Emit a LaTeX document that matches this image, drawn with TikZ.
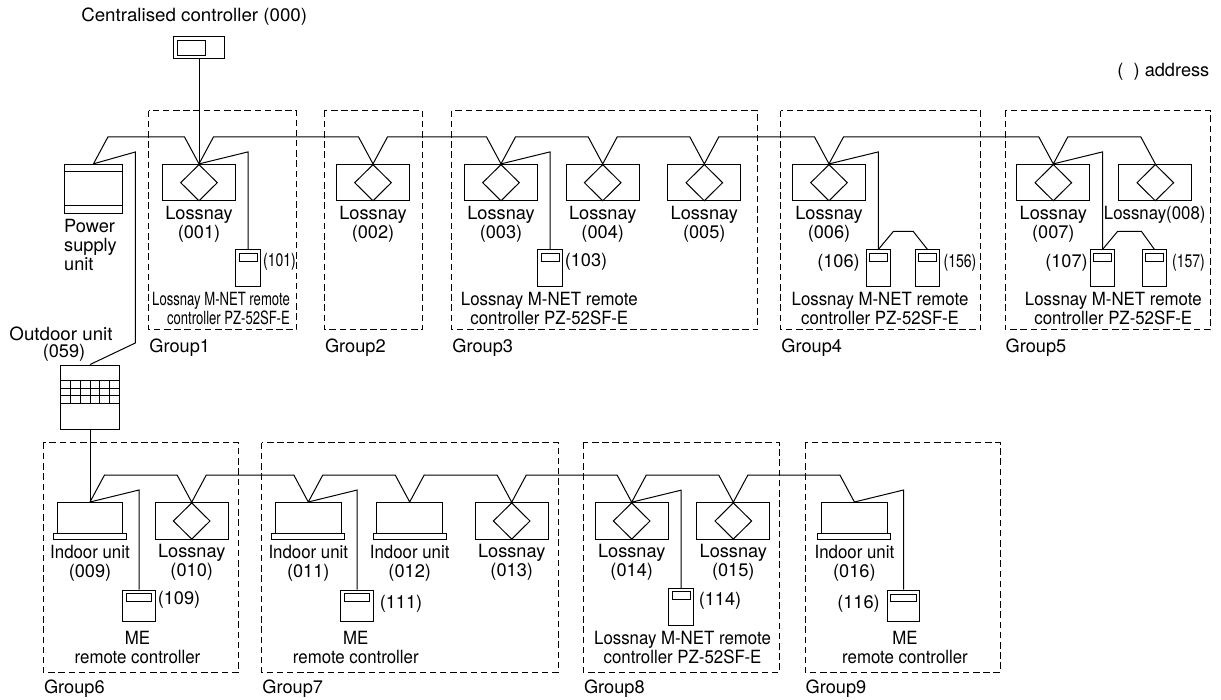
\documentclass[tikz,border=0pt]{standalone}
\usepackage{fontspec}
\usepackage{graphicx}
\setmainfont{TeX Gyre Heros}
\usetikzlibrary{calc, shapes.geometric}
\newcommand{\slim}[1]{\scalebox{.77}[1]{#1}}
\newcommand{\tight}[1]{\scalebox{.925}[1]{#1}}
\newcommand{\broad}[1]{\scalebox{1.03}[1]{#1}}
\tikzset{
  wire/.style={line width=1pt},
  grp/.style={line width=1pt, dash pattern=on 6.5pt off 3.7pt},
  lbl/.style={font=\fontsize{18.2}{19}\selectfont, align=center, inner sep=0pt},
  lossnay/.style={draw, wire, rectangle, minimum width=73pt, minimum height=36.6pt, inner sep=0pt},
  vane/.style={draw, wire, diamond, minimum width=37pt, minimum height=36.6pt, inner sep=0pt},
  indoor/.style={draw, wire, rectangle, minimum width=65.6pt, minimum height=31pt, inner sep=0pt},
  plate/.style={draw, wire, rectangle, minimum width=73pt, minimum height=6pt, inner sep=0pt},
  remote/.style={draw, wire, rectangle, minimum width=24.5pt, minimum height=37pt, inner sep=0pt},
  screen/.style={draw, wire, rectangle, minimum width=18pt, minimum height=8pt, inner sep=0pt},
  meremote/.style={draw, wire, rectangle, minimum width=32.7pt, minimum height=31pt, inner sep=0pt},
  mescreen/.style={draw, wire, rectangle, minimum width=25.5pt, minimum height=7.5pt, inner sep=0pt}
}

\begin{document}
\begin{tikzpicture}[x=1pt, y=-1pt]
	\useasboundingbox (0,0) rectangle (1221,700);
	% group frames
	\foreach \n/\xa/\xb/\t in {g1/148.7/296.7/Group1, g2/324.3/422.7/Group2, g3/451.7/757.7/Group3, g4/780.7/980.7/Group4, g5/1005/1210/Group5} {
		\draw[grp] (\xa,110.7) rectangle (\xb,330);
		\node[lbl, anchor=west] (\n) at (\xa+0.5,348) {\t};
	}
	\foreach \n/\xa/\xb/\t in {g6/43.3/238/Group6, g7/261.7/558/Group7, g8/583.3/779.3/Group8, g9/805/1000/Group9} {
		\draw[grp] (\xa,442.7) rectangle (\xb,672.5);
		\node[lbl, anchor=west] (\n) at (\xa+0.5,689) {\t};
	}
	% upper row
	\foreach \n/\x/\t in {l001/199/001, l002/373/002, l003/501/003, l004/602.7/004, l005/704.3/005, l006/829/006, l007/1053.3/007} {
		\node[lossnay] (\n) at (\x,182.7) {};
		\node[vane] (\n-d) at (\n) {};
		\node[lbl] (\n-t) at (\x,224) {Lossnay\\(\t)};
	}
	\node[lossnay] (l008) at (1155.3,182.7) {};
	\node[vane] (l008-d) at (l008) {};
	\node[lbl] (l008-t) at (1154.7,214.5) {\tight{Lossnay(008)}};
	% lower row
	\foreach \n/\x/\t in {l010/191.7/010, l013/511.7/013, l014/631.7/014, l015/733.3/015} {
		\node[lossnay] (\n) at (\x,521) {};
		\node[vane] (\n-d) at (\n) {};
		\node[lbl] (\n-t) at (\x,562.5) {Lossnay\\(\t)};
	}
	\foreach \n/\x/\t in {i009/90/009, i011/308.3/011, i012/409.7/012, i016/854.4/016} {
		\node[indoor] (\n) at (\x,518) {};
		\node[plate] (\n-b) at (\x,536.3) {};
		\node[lbl] (\n-t) at (\x,563.5) {\tight{Indoor unit}\\(\t)};
	}
	% power supply and outdoor unit
	\node[draw, wire, minimum width=58.4pt, minimum height=49pt, inner sep=0pt] (psu) at (93.5,188.8) {};
	\draw[wire] (psu.west |- 0,172) -- (psu.east |- 0,172) (psu.west |- 0,206) -- (psu.east |- 0,206);
	\node[lbl, align=left, anchor=north west] (psu-t) at (64,219.5) {Power\\supply\\unit};
	\node[draw, wire, minimum width=58.4pt, minimum height=64.3pt, inner sep=0pt] (odu) at (90,397.2) {};
	\foreach \y in {380.7,388.7,396,403.3} \draw[wire] (odu.west |- 0,\y) -- (odu.east |- 0,\y);
	\foreach \x in {70.7,80.3,90,99.7,109.3} \draw[wire] (\x,380.7) -- (\x,403.3);
	\node[lbl] (odu-t) at (61,334) {\broad{Outdoor unit}};
	\node[lbl] (odu-a) at (64,353) {(059)};
	% controller
	\node[draw, wire, minimum width=50.6pt, minimum height=22pt, inner sep=0pt] (cc) at (199,47.7) {};
	\node[draw, wire, minimum width=28pt, minimum height=14.7pt, inner sep=0pt] (cc-s) at (191.3,47.7) {};
	\node[lbl] (cc-t) at (194.2,16.5) {\broad{Centralised controller (000)}};
	\node[lbl, anchor=east] (addr) at (1209.5,71.5) {( \ ) address};
	% remote controllers
	\foreach \n/\x/\y in {r101/248/268.5, r103/550/268.5, r106/878.3/268.5, r156/927.5/268.5, r107/1102.5/268.5, r157/1154.5/268.5, r114/681/606.8} {
		\node[remote] (\n) at (\x,\y) {};
		\node[screen] (\n-s) at (\x,\y-11.2) {};
	}
	\foreach \n/\x/\y in {r109/139/605.5, r111/357.2/605.5, r116/903.6/605.7} {
		\node[meremote] (\n) at (\x,\y) {};
		\node[mescreen] (\n-s) at (\x,\y-7.8) {};
	}
	\node[lbl] (r101-a) at (279.5,261.5) {\slim{(101)}};
	\node[lbl] (r103-a) at (586,261.5) {(103)};
	\node[lbl] (r106-a) at (838.5,262.5) {(106)};
	\node[lbl] (r156-a) at (960,262.5) {\slim{(156)}};
	\node[lbl] (r107-a) at (1066.5,262.5) {(107)};
	\node[lbl] (r157-a) at (1188.5,262.5) {\slim{(157)}};
	\node[lbl] (r109-a) at (179,600) {(109)};
	\node[lbl] (r111-a) at (401,603.5) {(111)};
	\node[lbl] (r114-a) at (720,600.5) {(114)};
	\node[lbl] (r116-a) at (858.5,603.8) {(116)};
	\node[lbl, align=right, anchor=east] (r101-t) at (290,308.5) {\scalebox{.72}[1]{Lossnay M-NET remote}\\\scalebox{.72}[1]{controller PZ-52SF-E}};
	\foreach \n/\x/\y in {r103-t/549.3/308.5, r106-t/880/308.5, r107-t/1113.3/308.5, r114-t/682.5/647.5} {
		\node[lbl] (\n) at (\x,\y) {\tight{Lossnay M-NET remote}\\\tight{controller PZ-52SF-E}};
	}
	\foreach \n/\x in {r109-t/137.5, r111-t/355.8, r116-t/905} {
		\node[lbl] (\n) at (\x,648) {\tight{ME}\\\tight{remote controller}};
	}
	% transmission lines
	\draw[wire] (psu.north) -- ++(14.5,-27) \foreach \n in {l001,l002,l003,l004,l005,l006,l007} { -- ($(\n.north)+(-14.5,-27)$) -- (\n.north) -- ($(\n.north)+(14.5,-27)$) } -- ($(l008.north)+(-14.5,-27)$) -- (l008.north);
	\draw[wire] (i009.north) -- ++(14.5,-27) \foreach \n in {l010,i011,i012,l013,l014,l015} { -- ($(\n.north)+(-14.5,-27)$) -- (\n.north) -- ($(\n.north)+(14.5,-27)$) } -- ($(i016.north)+(-14.5,-27)$) -- (i016.north);
	\draw[wire] (cc.south) -- (l001.north);
	\draw[wire] (psu.north) -- (135.3,152) -- (135.3,343) -- (odu.north);
	\draw[wire] (odu.south) -- (i009.north);
	\foreach \a/\b in {l001/r101, l003/r103, l006/r106, l007/r107, i009/r109, i011/r111, l014/r114, i016/r116} {
		\draw[wire] (\a.north) -- ($(\b.north |- \a.north)+(0,-12)$) -- (\b.north);
	}
	\draw[wire] (r106.north) -- ++(15,-18) -- ++(20,0) -- (r156.north);
	\draw[wire] (r107.north) -- ++(15,-18) -- ++(24,0) -- (r157.north);
\end{tikzpicture}
\end{document}
